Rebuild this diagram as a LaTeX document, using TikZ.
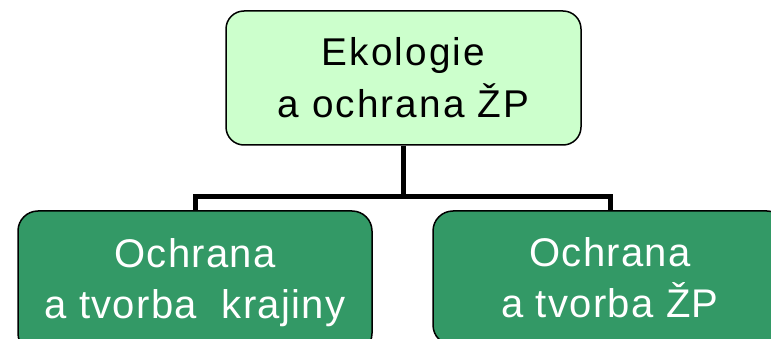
\documentclass[tikz,border=0pt]{standalone}
\usepackage{fontspec}
\setmainfont{Liberation Sans}
\newfontfamily\topfont{Liberation Sans}[LetterSpace=5.4]
\newfontfamily\subfont{Liberation Sans}[LetterSpace=3.3]
\usetikzlibrary{positioning}
\pgfdeclarelayer{edgelayer}
\pgfdeclarelayer{nodelayer}
\pgfsetlayers{edgelayer,nodelayer,main}
\definecolor{palegreen}{HTML}{CCFFCC}
\definecolor{darkgreen}{HTML}{339966}
\tikzstyle{top_box}=[rectangle,rounded corners=18pt,draw=black,line width=1.5pt,fill=palegreen,minimum width=355pt,minimum height=134pt,align=center,font=\topfont\fontsize{38.7}{52}\selectfont]
\tikzstyle{sub_box}=[rectangle,rounded corners=20pt,draw=black,line width=1.5pt,fill=darkgreen,text=white,minimum width=354pt,minimum height=142.4pt,align=center,font=\subfont\fontsize{40}{51}\selectfont]
\tikzstyle{branch}=[-,draw=black,line width=5pt,line join=miter]

\begin{document}
\begin{tikzpicture}[x=1pt,y=-1pt]
	\useasboundingbox (0,0) rectangle (771,339);
	\clip (0,0) rectangle (771,339);
	\begin{pgfonlayer}{nodelayer}
		\node [style={top_box}] (eko) at (403.5, 78) {Ekologie\\a ochrana ŽP};
		\node [style={sub_box}] (krajina) at (195, 282.2) {Ochrana\\a tvorba~ krajiny};
		\node [style={sub_box}, minimum height=134pt] (zp) at (610, 278) {Ochrana\\a tvorba ŽP};
	\end{pgfonlayer}
	\begin{pgfonlayer}{edgelayer}
		\draw [style=branch] (eko.south) -- ++(0, 50.5) coordinate (fork) -| (krajina.north);
		\draw [style=branch] (fork) -| (zp.north);
	\end{pgfonlayer}
\end{tikzpicture}
\end{document}
